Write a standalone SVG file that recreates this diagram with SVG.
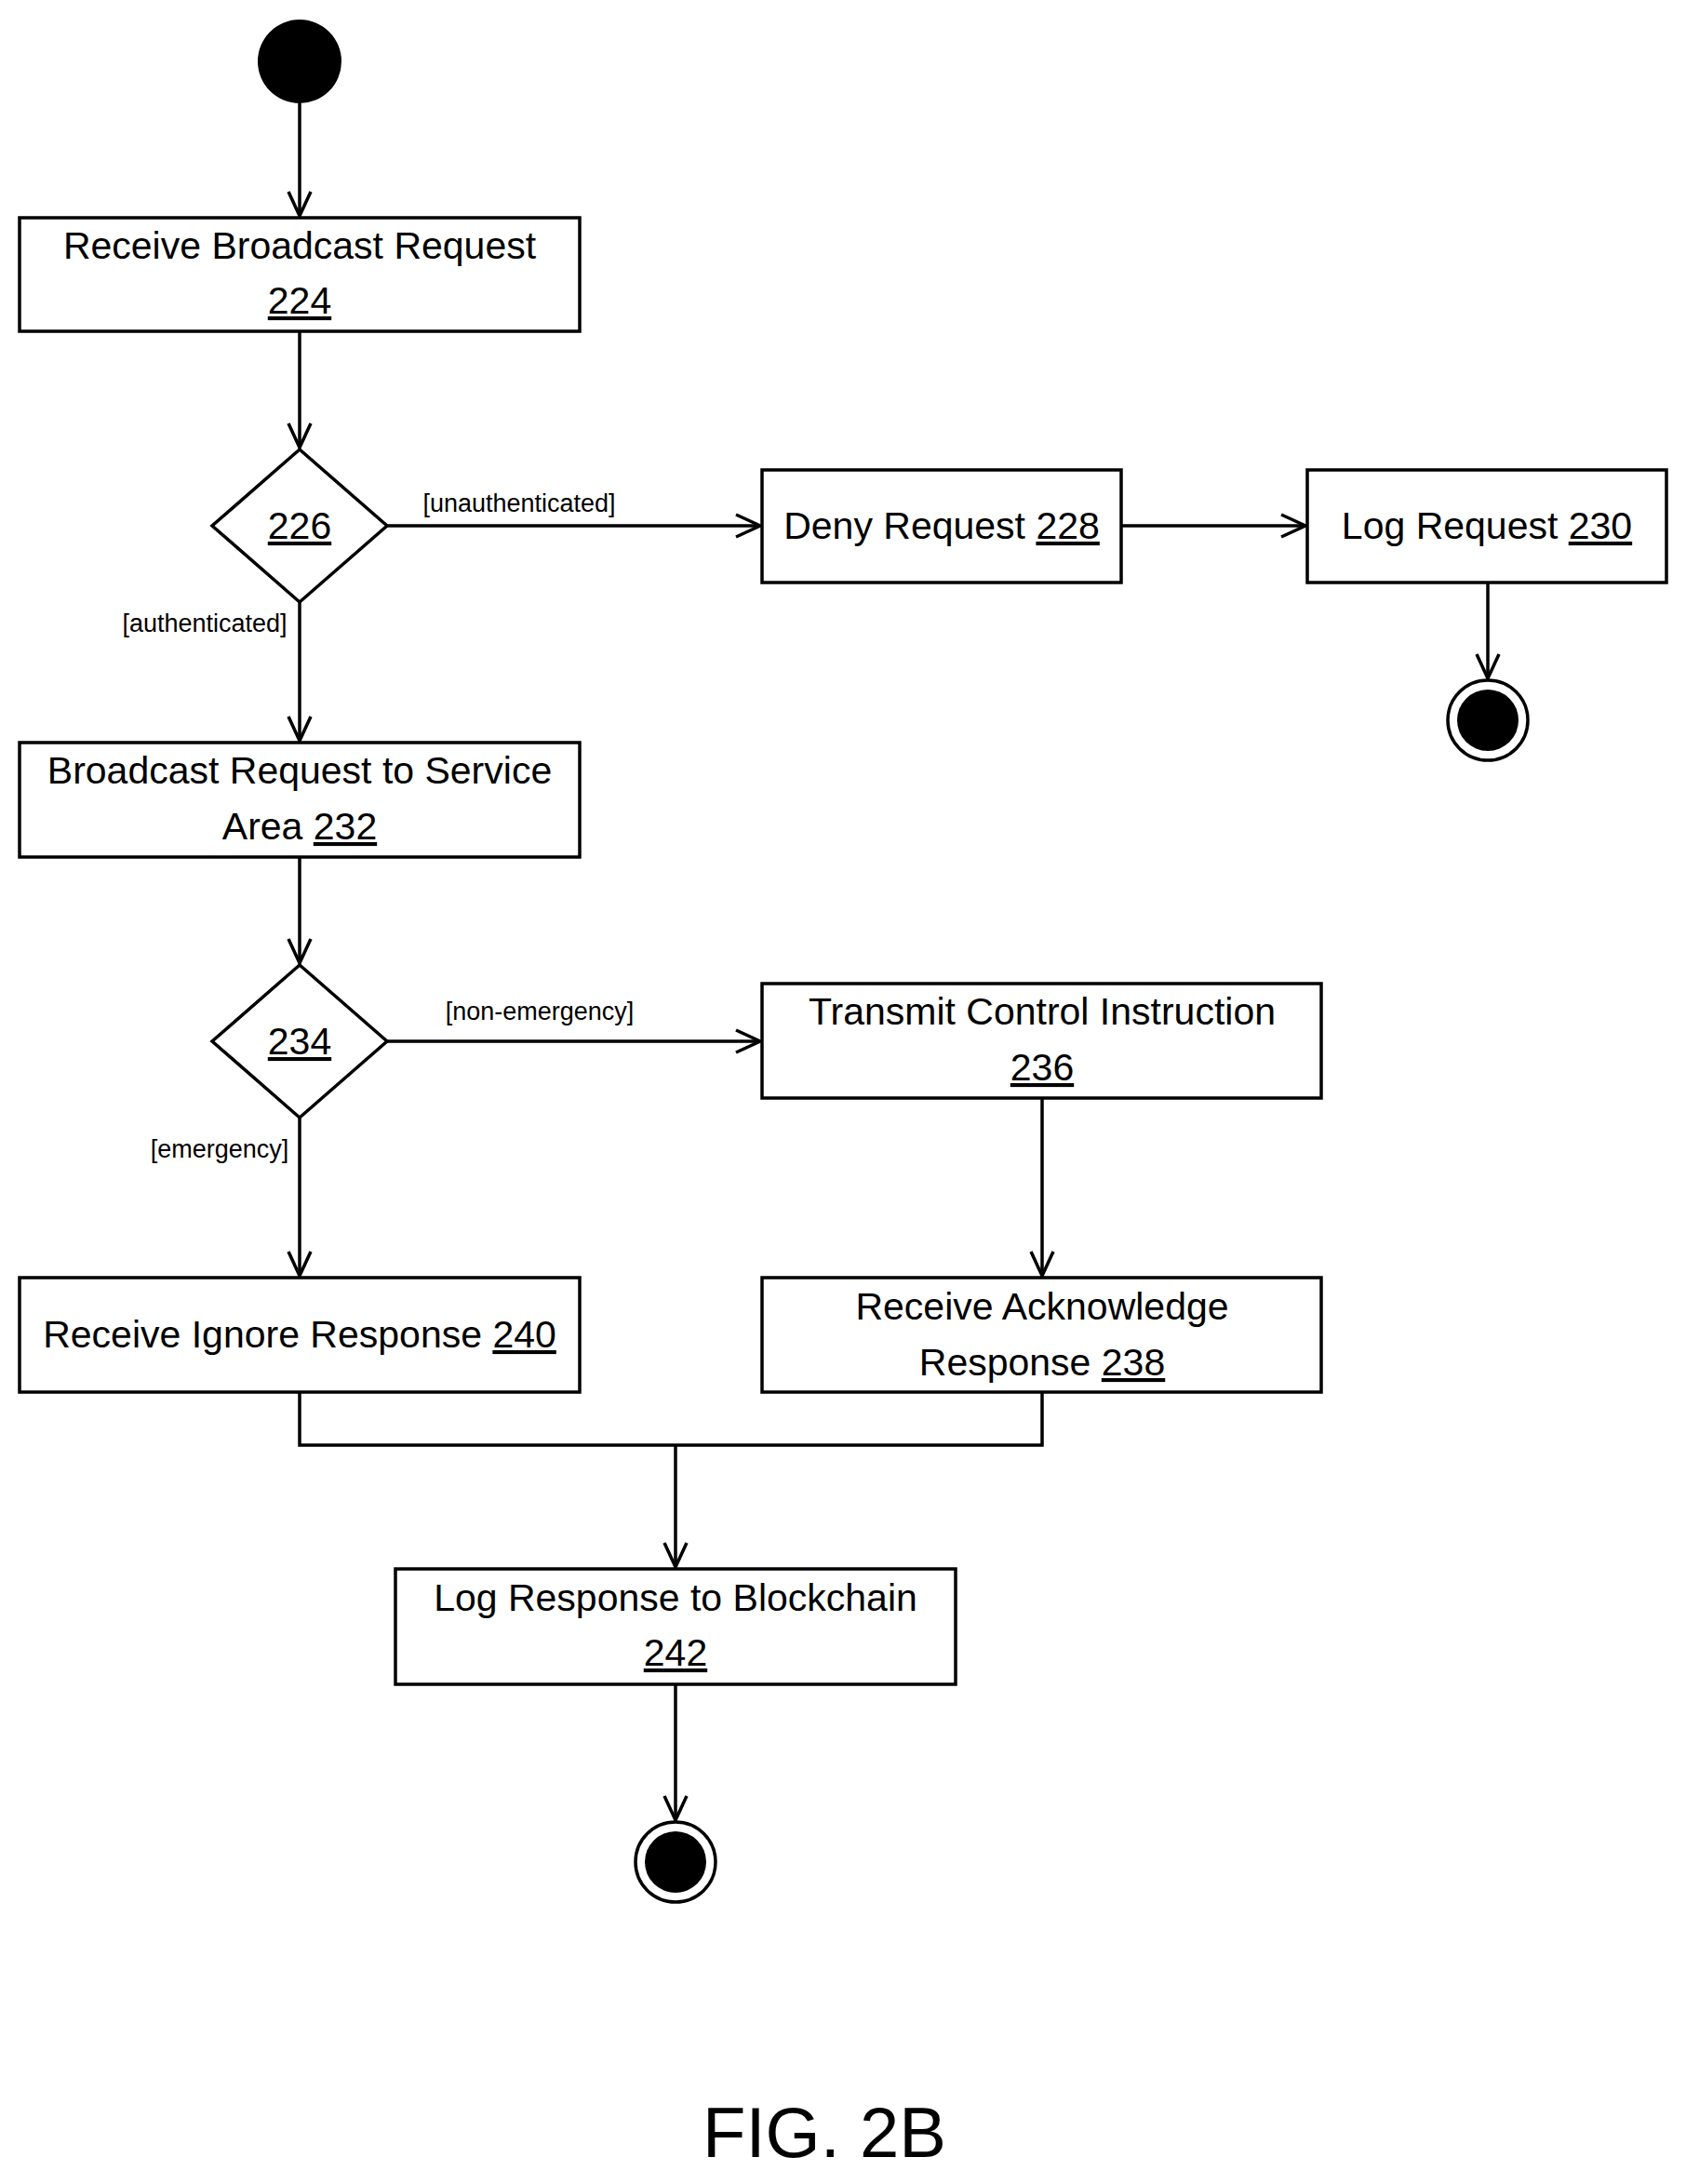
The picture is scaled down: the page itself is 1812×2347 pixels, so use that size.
<svg xmlns="http://www.w3.org/2000/svg" width="1812" height="2347" viewBox="0 0 1812 2347">
<style>
.b{fill:#fff;stroke:#000;stroke-width:3.5}
.t{font-family:"Liberation Sans",Arial,sans-serif;font-size:41px;text-anchor:middle;fill:#000}
.g{font-family:"Liberation Sans",Arial,sans-serif;font-size:27px;text-anchor:middle;fill:#000}
.u{text-decoration:underline}
.c{fill:none;stroke:#000;stroke-width:3.5}
</style>
<defs><marker id="a" markerWidth="14" markerHeight="14" refX="12" refY="7" orient="auto" markerUnits="userSpaceOnUse" viewBox="0 0 14 14"><polyline points="1,1 12,7 1,13" fill="none" stroke="#000" stroke-width="2.5"/></marker>
<marker id="A" markerWidth="30" markerHeight="30" refX="28" refY="15" orient="auto" markerUnits="userSpaceOnUse"><polyline points="2,3 28,15 2,27" fill="none" stroke="#000" stroke-width="3.5"/></marker></defs>
<g id="connectors" class="c" marker-end="url(#A)">
<line x1="322" y1="111" x2="322" y2="232"/>
<line x1="322" y1="356" x2="322" y2="481"/>
<line x1="416" y1="565" x2="817" y2="565"/>
<line x1="1205" y1="565" x2="1403" y2="565"/>
<line x1="1599" y1="626" x2="1599" y2="729"/>
<line x1="322" y1="647" x2="322" y2="796"/>
<line x1="322" y1="921" x2="322" y2="1035"/>
<line x1="416" y1="1119" x2="817" y2="1119"/>
<line x1="322" y1="1201" x2="322" y2="1371"/>
<line x1="1120" y1="1180" x2="1120" y2="1371"/>
<polyline points="322,1496 322,1553 1120,1553 1120,1496" marker-end="none"/>
<line x1="726" y1="1553" x2="726" y2="1684"/>
<line x1="726" y1="1810" x2="726" y2="1956"/>
</g>
<g id="start"><circle cx="322" cy="66" r="45" fill="#000"/></g>
<g id="n224"><rect class="b" x="21" y="234" width="602" height="122"/><text class="t" x="322" y="278">Receive Broadcast Request</text><text class="t u" x="322" y="337">224</text></g>
<g id="n226"><polygon class="b" points="322,483 416,565 322,647 228,565"/><text class="t u" x="322" y="579">226</text></g>
<text class="g" x="558" y="550">[unauthenticated]</text>
<text class="g" x="220" y="679">[authenticated]</text>
<g id="n228"><rect class="b" x="819" y="505" width="386" height="121"/><text class="t" x="1012" y="579">Deny Request <tspan class="u">228</tspan></text></g>
<g id="n230"><rect class="b" x="1405" y="505" width="386" height="121"/><text class="t" x="1598" y="579">Log Request <tspan class="u">230</tspan></text></g>
<g id="end1"><circle cx="1599" cy="774" r="43" fill="#fff" stroke="#000" stroke-width="3.5"/><circle cx="1599" cy="774" r="33" fill="#000"/></g>
<g id="n232"><rect class="b" x="21" y="798" width="602" height="123"/><text class="t" x="322" y="842">Broadcast Request to Service</text><text class="t" x="322" y="902">Area <tspan class="u">232</tspan></text></g>
<g id="n234"><polygon class="b" points="322,1037 416,1119 322,1201 228,1119"/><text class="t u" x="322" y="1133">234</text></g>
<text class="g" x="580" y="1096">[non-emergency]</text>
<text class="g" x="236" y="1244">[emergency]</text>
<g id="n236"><rect class="b" x="819" y="1057" width="601" height="123"/><text class="t" x="1120" y="1101">Transmit Control Instruction</text><text class="t u" x="1120" y="1161">236</text></g>
<g id="n240"><rect class="b" x="21" y="1373" width="602" height="123"/><text class="t" x="322" y="1448">Receive Ignore Response <tspan class="u">240</tspan></text></g>
<g id="n238"><rect class="b" x="819" y="1373" width="601" height="123"/><text class="t" x="1120" y="1418">Receive Acknowledge</text><text class="t" x="1120" y="1478">Response <tspan class="u">238</tspan></text></g>
<g id="n242"><rect class="b" x="425" y="1686" width="602" height="124"/><text class="t" x="726" y="1731">Log Response to Blockchain</text><text class="t u" x="726" y="1790">242</text></g>
<g id="end2"><circle cx="726" cy="2001" r="43" fill="#fff" stroke="#000" stroke-width="3.5"/><circle cx="726" cy="2001" r="33" fill="#000"/></g>
<text x="886" y="2318" font-family="Liberation Sans,Arial,sans-serif" font-size="76" text-anchor="middle">FIG. 2B</text>
</svg>
